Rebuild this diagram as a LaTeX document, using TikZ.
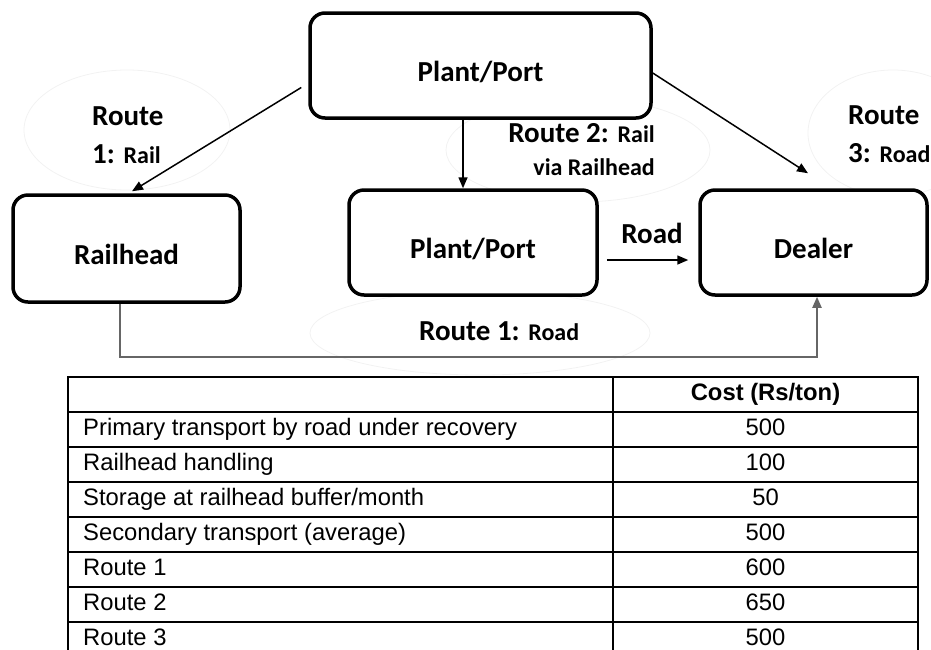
\documentclass[tikz,border=0pt]{standalone}
\usepackage{fontspec}
\setmainfont{Carlito}
\newfontfamily\tabfont{Liberation Sans}
\usepackage{tikz}
\usetikzlibrary{arrows.meta,calc}

\newcommand\bigtxt{\bfseries\fontsize{29pt}{38pt}\selectfont}
\newcommand\smtxt[1]{{\fontsize{24pt}{38pt}\selectfont #1}}
\newcommand\tabtxt{\tabfont\fontsize{23.8pt}{24pt}\selectfont}

\tikzset{
  box/.style={draw, fill=white, line width=3.5pt, rounded corners=15pt, inner sep=0pt,
    text height=31pt, text depth=0pt, font=\bigtxt},
  lbl/.style={inner sep=0pt, font=\bigtxt},
  arr/.style={line width=1.5pt, -{Triangle[length=11pt,width=9pt]}},
  halo/.style={draw=black!5, line width=0.8pt},
  grid/.style={line width=2.5pt, line cap=rect},
  cell/.style={inner sep=0pt, anchor=base, font=\tabtxt}
}

\begin{document}
\begin{tikzpicture}[x=1pt, y=-1pt]
  \useasboundingbox (0,0) rectangle (931,649);

  \draw[halo] (127,130) ellipse (103 and 60);
  \draw[halo] (578,150) ellipse (132 and 52);
  \draw[halo] (893,133) ellipse (85 and 63);
  \draw[halo] (480,333) ellipse (170 and 42);

  \node[box, minimum width=341pt, minimum height=105pt] (top) at (480.5,65.5) {Plant/Port};
  \node[box, minimum width=227pt, minimum height=107pt] (rail) at (126.5,248.5) {Railhead};
  \node[box, minimum width=248pt, minimum height=105pt] (mid) at (473,242.5) {Plant/Port};
  \node[box, minimum width=227pt, minimum height=105pt] (dealer) at (813.5,242.5) {Dealer};

  \node[lbl, align=left, anchor=west] (r1rail) at (92,135) {Route\\1: \smtxt{Rail}};
  \node[lbl, align=right, anchor=east, font=\bigtxt\setlength\baselineskip{33pt}] (r2rail) at (655,150)
    {Route 2: \smtxt{Rail}\\\smtxt{via Railhead}};
  \node[lbl, align=left, anchor=west] (r3road) at (848,134) {Route\\3: \smtxt{Road}};
  \node[lbl, anchor=base] (road) at (652,243) {Road};
  \node[lbl, anchor=base west] (r1road) at (419,340) {Route 1: \smtxt{Road}};

  \coordinate (vx) at ([xshift=-10pt]mid.north);
  \draw[arr] ([xshift=-7pt,yshift=-22pt]top.west) -- ([xshift=5.5pt,yshift=2pt]rail.north);
  \draw[arr] (vx |- top.south) -- (vx);
  \draw[arr] ([yshift=-7.5pt]top.east) -- ([xshift=-5.5pt,yshift=15pt]dealer.north);
  \draw[arr] ([xshift=8pt,yshift=-17.5pt]mid.east) -- ([xshift=-10pt,yshift=-17.5pt]dealer.west);
  \draw[arr, draw=black!60, line width=2pt] ([xshift=-6.5pt]rail.south) -- ++(0,53) -| ([xshift=3.5pt]dealer.south);

  \foreach \k in {0,...,7}
    \draw[grid] (68,{377+35*\k}) -- (918,{377+35*\k});
  \foreach \xx in {68,613,918}
    \draw[grid] (\xx,377) -- (\xx,660);

  \node[cell, font=\tabtxt\bfseries] (head) at (765.5,400) {Cost (Rs/ton)};
  \foreach \txt/\val [count=\i] in {Primary transport by road under recovery/500,
      Railhead handling/100, {Storage at railhead buffer/month}/50,
      Secondary transport (average)/500, Route 1/600, Route 2/650, Route 3/500}
  {
    \node[cell, anchor=base west] (item\i) at (83,{400+35*\i}) {\txt};
    \node[cell] (cost\i) at (765.5,{400+35*\i}) {\val};
  }
\end{tikzpicture}
\end{document}
